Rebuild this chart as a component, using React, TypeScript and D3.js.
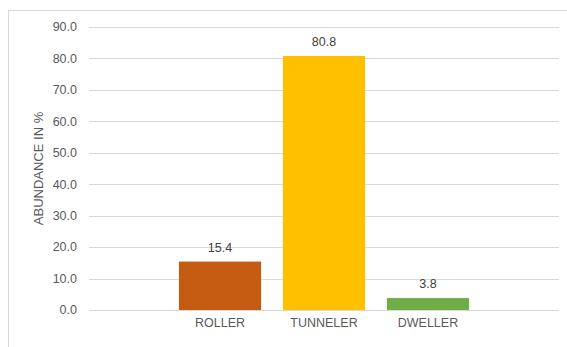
import React from "react";
import * as d3 from "d3";

const categories = ["ROLLER", "TUNNELER", "DWELLER"];
const values = [15.4, 80.8, 3.8];
const colors = ["#C55A11", "#FFC000", "#70AD47"];
const yTicks = [0, 10, 20, 30, 40, 50, 60, 70, 80, 90];

const W = 567;
const H = 347;
const plot = { left: 89, right: 559, top: 27, bottom: 310 };
const font = "'Liberation Sans', Arial, sans-serif";

export default function App() {
  const x = d3
    .scaleBand<string>()
    .domain(categories)
    .range([plot.left, plot.right])
    .paddingInner(0.21)
    .paddingOuter(0.865);
  const y = d3.scaleLinear().domain([0, 90]).range([plot.bottom, plot.top]);

  return (
    <svg
      width={W}
      height={H}
      style={{ position: "absolute", left: 0, top: 0, background: "#fff" }}
    >
      <rect x={0} y={0} width={W} height={H} fill="#fff" />
      <rect x={8.5} y={10.5} width={700} height={500} fill="none" stroke="#D9D9D9" />
      {yTicks.map((t) => (
        <g key={t}>
          <line
            x1={plot.left}
            x2={plot.right}
            y1={Math.round(y(t)) + 0.5}
            y2={Math.round(y(t)) + 0.5}
            stroke="#D9D9D9"
            strokeWidth={1}
          />
          <text
            x={77}
            y={y(t)}
            dy="0.35em"
            textAnchor="end"
            fontFamily={font}
            fontSize={12.5}
            fill="#595959"
          >
            {d3.format(".1f")(t)}
          </text>
        </g>
      ))}
      {categories.map((c, i) => (
        <g key={c}>
          <rect
            x={x(c)}
            y={y(values[i])}
            width={x.bandwidth()}
            height={y(0) - y(values[i])}
            fill={colors[i]}
          />
          <text
            x={(x(c) as number) + x.bandwidth() / 2}
            y={y(values[i]) - 10}
            textAnchor="middle"
            fontFamily={font}
            fontSize={12.5}
            fill="#404040"
          >
            {d3.format(".1f")(values[i])}
          </text>
          <text
            x={(x(c) as number) + x.bandwidth() / 2}
            y={327}
            textAnchor="middle"
            fontFamily={font}
            fontSize={12.5}
            fill="#595959"
          >
            {c}
          </text>
        </g>
      ))}
      <text
        transform={`translate(42.5, ${(plot.top + plot.bottom) / 2}) rotate(-90)`}
        textAnchor="middle"
        fontFamily={font}
        fontSize={13}
        fill="#595959"
      >
        ABUNDANCE IN %
      </text>
    </svg>
  );
}
